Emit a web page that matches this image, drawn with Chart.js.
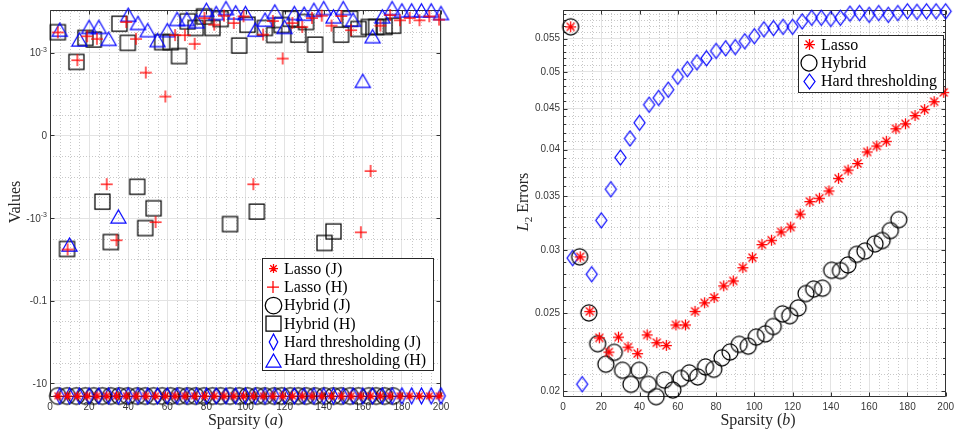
<!DOCTYPE html>
<html><head><meta charset="utf-8">
<script src="https://cdn.jsdelivr.net/npm/chart.js@4.4.0/dist/chart.umd.min.js"></script>
<style>
html,body{margin:0;padding:0;background:#fff;overflow:hidden;}
#wrap{position:relative;width:958px;height:435px;background:#fff;}
#c1{position:absolute;left:0;top:0;width:500px;height:435px;}
#c2{position:absolute;left:500px;top:0;width:458px;height:435px;}
</style></head><body>
<div id="wrap"><canvas id="c1" width="500" height="435"></canvas><canvas id="c2" width="458" height="435"></canvas></div>
<script>
// ---------- data ----------
const lassoX = [4,9,14,19,24,29,34,39,44,49,54,59,64,69,74,79,84,89,94,99,104,109,114,119,124,129,134,139,144,149,154,159,164,169,174,179,184,189,194,199];
const hybridX = [4,8.7,13.5,18.1,22.4,26.8,31.1,35.5,39.8,44.6,48.7,53,57.4,61.7,66,70.4,74.5,78.8,83.1,87.3,92.1,96.8,101,105.8,109.9,114.7,118.5,122.9,127,131,135.6,140.4,145,148.9,153.5,157.8,163.1,166.8,171.1,175.5];
const hardX = [5,10,15,20,25,30,35,40,45,50,55,60,65,70,75,80,85,90,95,100,105,110,115,120,125,130,135,140,145,150,155,160,165,170,175,180,185,190,195,200];

// panel (a): values
const lassoJa = [-20,-20,-20,-20,-20,-20,-20,-20,-20,-20,-20,-20,-20,-20,-20,-20,-20,-20,-20,-20,-20,-20,-20,-20,-20,-20,-20,-20,-20,-20,-20,-20,-20,-20,-20,-20,-20,-20,-20,-20];
const lassoHa = [3.1e-3,-5.73e-3,0.91e-3,2.51e-3,2.17e-3,-0.59e-3,-3.43e-3,5.55e-3,2.17e-3,0.76e-3,-1.25e-3,0.47e-3,2.66e-3,2.66e-3,1.64e-3,6.92e-3,4.78e-3,7.86e-3,5.25e-3,7.6e-3,-0.59e-3,2.75e-3,5.86e-3,0.93e-3,5.25e-3,4.21e-3,6.92e-3,7.86e-3,4.52e-3,7.73e-3,3.51e-3,-2.2e-3,-0.43e-3,4.52e-3,8.17e-3,6.1e-3,6.92e-3,6.1e-3,7.6e-3,6.3e-3];
const hybridJa = [-20,-20,-20,-20,-20,-20,-20,-20,-20,-20,-20,-20,-20,-20,-20,-20,-20,-20,-20,-20,-20,-20,-20,-20,-20,-20,-20,-20,-20,-20,-20,-20,-20,-20,-20,-20,-20,-20,-20,-20];
const hybridHa = [3.14e-3,-5.55e-3,0.89e-3,2.29e-3,2.09e-3,-0.8e-3,-3.77e-3,5.05e-3,1.74e-3,-0.62e-3,-1.74e-3,-0.88e-3,1.81e-3,1.81e-3,0.96e-3,5.77e-3,3.98e-3,7.6e-3,3.98e-3,6.55e-3,-1.39e-3,1.5e-3,4.78e-3,-0.92e-3,3.98e-3,2.7e-3,4.7e-3,6.65e-3,2.75e-3,5.55e-3,1.58e-3,-3.98e-3,-2.09e-3,2.75e-3,6.65e-3,3.77e-3,4.21e-3,4.21e-3,4.21e-3,4.52e-3];
const hardJa = [-20,-20,-20,-20,-20,-20,-20,-20,-20,-20,-20,-20,-20,-20,-20,-20,-20,-20,-20,-20,-20,-20,-20,-20,-20,-20,-20,-20,-20,-20,-20,-20,-20,-20,-20,-20,-20,-20,-20,-20];
const hardHa = [3.62e-3,-4.35e-3,2.09e-3,4.21e-3,4.21e-3,2.17e-3,-0.98e-3,8.3e-3,5.25e-3,3.51e-3,2.02e-3,3.51e-3,6.55e-3,6.55e-3,5.77e-3,10.9e-3,9.12e-3,12.0e-3,9.48e-3,9.12e-3,3.62e-3,6.3e-3,10.0e-3,4.21e-3,9.12e-3,8.77e-3,10.9e-3,12.0e-3,7.6e-3,12.0e-3,6.3e-3,0.66e-3,2.51e-3,7.6e-3,12.0e-3,10.6e-3,10.6e-3,10.6e-3,10.6e-3,9.12e-3];
const yTicksA = [-10,-0.1,-0.001,0,0.001];
// tick labels as [base, superscript]
const yTickLabelsA = [['-10',''],['-0.1',''],['-10','-3'],['0',''],['10','-3']];

// panel (b): L2 errors
const lassoB = [0.0569,0.0294,0.02514,0.0233,0.02237,0.02335,0.02269,0.02227,0.0235,0.02298,0.0228,0.02418,0.02418,0.02514,0.02577,0.02616,0.02705,0.02744,0.0285,0.02933,0.03046,0.03084,0.03158,0.03203,0.03324,0.03446,0.03479,0.03553,0.03683,0.03772,0.03844,0.03974,0.04042,0.04097,0.04247,0.04308,0.04411,0.04488,0.0459,0.04715];
const hybridB = [0.0569,0.0294,0.02503,0.02291,0.0216,0.02235,0.02123,0.02039,0.02123,0.02039,0.01968,0.02064,0.02006,0.02074,0.02107,0.02083,0.02143,0.02129,0.022,0.02237,0.02287,0.02275,0.02335,0.02357,0.02407,0.02496,0.02483,0.02539,0.02646,0.0268,0.02687,0.02829,0.02826,0.02872,0.02961,0.02989,0.03052,0.03081,0.0317,0.03271];
const hardB = [0.0293,0.0204,0.02797,0.03265,0.0357,0.0391,0.0413,0.0432,0.0455,0.0464,0.0475,0.0493,0.0504,0.0514,0.052,0.0531,0.0535,0.0537,0.0546,0.0554,0.0565,0.0567,0.0569,0.0569,0.0578,0.0584,0.0584,0.0582,0.0584,0.0591,0.0592,0.0589,0.0592,0.0589,0.0592,0.0595,0.0594,0.0595,0.0595,0.0595];
const yTicksB = [0.02,0.025,0.03,0.035,0.04,0.045,0.05,0.055];
const yTickLabelsB = ['0.02','0.025','0.03','0.035','0.04','0.045','0.05','0.055'];

const xTicks = [0,20,40,60,80,100,120,140,160,180,200];
const xTickLabels = ['0','20','40','60','80','100','120','140','160','180','200'];

// ---------- axis transform for panel (a) ----------
function toLevel(v){
  if (v >= 1e-3) return 4 + Math.log10(v/1e-3)/2;
  if (v >= -1e-3) return 3 + v/1e-3;
  return 2 - Math.log10(-v/1e-3)/2;
}
function fromLevel(L){
  if (L >= 4) return 1e-3*Math.pow(10, 2*(L-4));
  if (L >= 2) return (L-3)*1e-3;
  return -1e-3*Math.pow(10, 2*(2-L));
}
class SymScale extends Chart.LinearScale {
  getPixelForValue(v){
    const a = toLevel(this.min), b = toLevel(this.max);
    return this.getPixelForDecimal((toLevel(v)-a)/(b-a));
  }
  getValueForPixel(p){
    const a = toLevel(this.min), b = toLevel(this.max);
    return fromLevel(a + this.getDecimalForPixel(p)*(b-a));
  }
}
SymScale.id = 'symlevel';
SymScale.defaults = Chart.LinearScale.defaults;
Chart.register(SymScale);

// ---------- markers ----------
function mk(type, color, w, h, lw){
  lw = lw || 1.25;
  const pad = 2;
  const c = document.createElement('canvas');
  c.width = Math.ceil(w + 2*pad); c.height = Math.ceil(h + 2*pad);
  const g = c.getContext('2d');
  g.strokeStyle = color; g.lineWidth = lw;
  const cx = c.width/2, cy = c.height/2;
  g.beginPath();
  if (type === 'circle') { g.arc(cx, cy, w/2, 0, Math.PI*2); }
  else if (type === 'square') { g.rect(cx-w/2, cy-h/2, w, h); }
  else if (type === 'diamond') { g.moveTo(cx, cy-h/2); g.lineTo(cx+w/2, cy); g.lineTo(cx, cy+h/2); g.lineTo(cx-w/2, cy); g.closePath(); }
  else if (type === 'triangle') { g.moveTo(cx, cy-h/2); g.lineTo(cx+w/2, cy+h/2); g.lineTo(cx-w/2, cy+h/2); g.closePath(); }
  else if (type === 'plus') { g.moveTo(cx-w/2, cy); g.lineTo(cx+w/2, cy); g.moveTo(cx, cy-h/2); g.lineTo(cx, cy+h/2); }
  else if (type === 'star') {
    g.moveTo(cx-w/2, cy); g.lineTo(cx+w/2, cy); g.moveTo(cx, cy-h/2); g.lineTo(cx, cy+h/2);
    const d = w/2*0.72;
    g.moveTo(cx-d, cy-d); g.lineTo(cx+d, cy+d); g.moveTo(cx-d, cy+d); g.lineTo(cx+d, cy-d);
  }
  g.stroke();
  return c;
}
const RED = '#ff0000', BLUE = '#0000ff', BLACK = '#000000';
const mA = {
  star: mk('star', RED, 9, 9), plus: mk('plus', RED, 12, 12),
  circle: mk('circle', BLACK, 16.5, 16.5), square: mk('square', BLACK, 15, 15),
  diamond: mk('diamond', BLUE, 8.5, 16), triangle: mk('triangle', BLUE, 15, 13)
};
const mB = {
  star: mk('star', RED, 11, 11), circle: mk('circle', BLACK, 16, 16), diamond: mk('diamond', BLUE, 11, 15)
};

// ---------- plugins ----------
function makeFrame(cfg){
  return {
    id: 'frame',
    beforeDatasetsDraw(chart){
      const ctx = chart.ctx, a = chart.chartArea, xs = chart.scales.x, ys = chart.scales.y;
      const L = Math.round(a.left)+0.5, R = Math.round(a.right)-0.5, T = Math.round(a.top)+0.5, B = Math.round(a.bottom)-0.5;
      ctx.save();
      ctx.strokeStyle = '#c8c8c8'; ctx.lineWidth = 1; ctx.setLineDash([1,2]);
      ctx.beginPath();
      cfg.xMinor.forEach(v => { const p = Math.round(xs.getPixelForValue(v))+0.5; ctx.moveTo(p, a.top); ctx.lineTo(p, a.bottom); });
      cfg.yMinor.forEach(v => { const p = Math.round(ys.getPixelForValue(v))+0.5; if (p > a.top && p < a.bottom) { ctx.moveTo(a.left, p); ctx.lineTo(a.right, p); } });
      ctx.stroke();
      ctx.setLineDash([]);
      ctx.strokeStyle = '#333333'; ctx.lineWidth = 1;
      ctx.beginPath();
      ctx.rect(L, T, R-L, B-T);
      cfg.xMajor.forEach(v => { const p = Math.round(xs.getPixelForValue(v))+0.5; ctx.moveTo(p, B); ctx.lineTo(p, B-cfg.len); ctx.moveTo(p, T); ctx.lineTo(p, T+cfg.len); });
      cfg.yMajor.forEach(v => { const p = Math.round(ys.getPixelForValue(v))+0.5; ctx.moveTo(L, p); ctx.lineTo(L+cfg.len, p); ctx.moveTo(R, p); ctx.lineTo(R-cfg.len, p); });
      (cfg.yMinorTicks || []).forEach(v => { const p = Math.round(ys.getPixelForValue(v))+0.5; if (p > a.top && p < a.bottom) { ctx.moveTo(L, p); ctx.lineTo(L+cfg.minLen, p); ctx.moveTo(R, p); ctx.lineTo(R-cfg.minLen, p); } });
      ctx.stroke();
      ctx.restore();
    }
  };
}
function makeYLabels(ticks, labels){
  return {
    id: 'ylabels',
    afterDraw(chart){
      const ctx = chart.ctx, ys = chart.scales.y, a = chart.chartArea;
      ctx.save();
      ctx.fillStyle = TICKCOL; ctx.textBaseline = 'middle'; ctx.textAlign = 'left';
      ticks.forEach((v, i) => {
        const base = labels[i][0], sup = labels[i][1];
        const y = ys.getPixelForValue(v);
        ctx.font = '10px "Liberation Sans", Arial, sans-serif';
        const wb = ctx.measureText(base).width;
        ctx.font = '7px "Liberation Sans", Arial, sans-serif';
        const ws = sup ? ctx.measureText(sup).width : 0;
        const right = a.left - 3;
        const x0 = right - wb - ws;
        ctx.font = '10px "Liberation Sans", Arial, sans-serif';
        ctx.fillText(base, x0, y + 1);
        if (sup) { ctx.font = '7px "Liberation Sans", Arial, sans-serif'; ctx.fillText(sup, x0 + wb, y - 3); }
      });
      ctx.restore();
    }
  };
}
function makeLegend(cfg){
  return {
    id: 'boxlegend',
    afterDatasetsDraw(chart){
      const ctx = chart.ctx;
      ctx.save();
      ctx.fillStyle = '#ffffff'; ctx.strokeStyle = '#262626'; ctx.lineWidth = 1;
      ctx.fillRect(cfg.x, cfg.y, cfg.w, cfg.h);
      ctx.strokeRect(cfg.x+0.5, cfg.y+0.5, cfg.w-1, cfg.h-1);
      ctx.font = cfg.font; ctx.fillStyle = '#000'; ctx.textBaseline = 'middle'; ctx.textAlign = 'left';
      cfg.items.forEach((it, i) => {
        const y = cfg.rowY[i];
        ctx.drawImage(it.img, Math.round(cfg.mx - it.img.width/2), Math.round(y - it.img.height/2));
        ctx.fillText(it.label, cfg.tx, y+1);
      });
      ctx.restore();
    }
  };
}
function drawRich(ctx, parts, x, y, rot){
  ctx.save(); ctx.translate(x, y); if (rot) ctx.rotate(rot);
  ctx.textBaseline = 'alphabetic'; ctx.textAlign = 'left'; ctx.fillStyle = '#262626';
  let w = 0;
  parts.forEach(p => { ctx.font = p.font; p.w = ctx.measureText(p.t).width; w += p.w; });
  let cx = -w/2;
  parts.forEach(p => { ctx.font = p.font; ctx.fillText(p.t, cx, p.dy || 0); cx += p.w; });
  ctx.restore();
}
const SERIF = '16px "Liberation Serif"', SERIF_I = 'italic 16px "Liberation Serif"';
function makeTitles(list){
  return { id: 'titles', afterDraw(chart){ list.forEach(t => drawRich(chart.ctx, t.parts, t.x, t.y, t.rot)); } };
}

// minor grid positions
const xMinor = []; for (let v = 5; v < 200; v += 5) if (v % 20) xMinor.push(v);
const yMinorA = []; for (let k = -1; k <= 18; k++) if (k % 4) yMinorA.push(fromLevel(k/4));
const yMinorB = []; for (let k = 20; k <= 59; k++) if (k % 5) yMinorB.push(k/1000);

function pts(xs, ys){ return xs.map((x, i) => ({x: x, y: ys[i]})); }
const tickFont = {family: '"Liberation Sans", Arial, sans-serif', size: 10};
const TICKCOL = '#383838';
function xAxis(){
  return {
    type: 'linear', min: 0, max: 200, position: 'bottom',
    afterBuildTicks: s => { s.ticks = xTicks.map(v => ({value: v})); },
    afterFit: s => { s.height = 38; },
    ticks: { callback: (v, i) => xTickLabels[i], font: tickFont, color: TICKCOL, padding: 4, maxRotation: 0, autoSkip: false },
    grid: { color: '#e3e3e3', lineWidth: 1, drawTicks: false },
    border: { display: false }
  };
}
function ds(label, xs, ys, img, order){
  return { label: label, data: pts(xs, ys), pointStyle: img, pointRadius: 9, pointHoverRadius: 9, clip: false, order: order };
}

// ---------- chart (a) ----------
new Chart(document.getElementById('c1'), {
  type: 'scatter',
  data: { datasets: [
    ds('Lasso (J)', lassoX, lassoJa, mA.star, 0),
    ds('Lasso (H)', lassoX, lassoHa, mA.plus, 1),
    ds('Hybrid (J)', hybridX, hybridJa, mA.circle, 5),
    ds('Hybrid (H)', hybridX, hybridHa, mA.square, 4),
    ds('Hard thresholding (J)', hardX, hardJa, mA.diamond, 3),
    ds('Hard thresholding (H)', hardX, hardHa, mA.triangle, 2)
  ]},
  options: {
    responsive: false, animation: false, events: [], devicePixelRatio: 1,
    layout: { padding: { left: 0, right: 59, top: 7, bottom: 0 } },
    plugins: { legend: { display: false }, tooltip: { enabled: false } },
    scales: {
      x: xAxis(),
      y: {
        type: 'symlevel', min: fromLevel(-0.164), max: fromLevel(4.516), bounds: 'data',
        afterBuildTicks: s => { s.ticks = yTicksA.map(v => ({value: v})); },
        afterFit: s => { s.width = 50; },
        ticks: { display: false },
        grid: { color: '#e3e3e3', lineWidth: 1, drawTicks: false },
        border: { display: false }
      }
    }
  },
  plugins: [
    makeFrame({ xMinor: xMinor, yMinor: yMinorA, xMajor: xTicks, yMajor: yTicksA, len: 4 }),
    makeYLabels(yTicksA, yTickLabelsA),
    makeLegend({ x: 262, y: 258, w: 172, h: 113, mx: 273, tx: 284, rowY: [268.3, 286.7, 305, 323.3, 341.7, 360], font: SERIF,
      items: [ {img: mA.star, label: 'Lasso (J)'}, {img: mA.plus, label: 'Lasso (H)'}, {img: mA.circle, label: 'Hybrid (J)'},
               {img: mA.square, label: 'Hybrid (H)'}, {img: mA.diamond, label: 'Hard thresholding (J)'}, {img: mA.triangle, label: 'Hard thresholding (H)'} ] }),
    makeTitles([
      { parts: [{t: 'Values', font: SERIF}], x: 20, y: 202, rot: -Math.PI/2 },
      { parts: [{t: 'Sparsity (', font: SERIF}, {t: 'a', font: SERIF_I}, {t: ')', font: SERIF}], x: 245.5, y: 425 }
    ])
  ]
});

// ---------- chart (b) ----------
new Chart(document.getElementById('c2'), {
  type: 'scatter',
  data: { datasets: [
    ds('Lasso', lassoX, lassoB, mB.star, 0),
    ds('Hybrid', hybridX, hybridB, mB.circle, 1),
    ds('Hard thresholding', hardX, hardB, mB.diamond, 2)
  ]},
  options: {
    responsive: false, animation: false, events: [], devicePixelRatio: 1,
    layout: { padding: { left: 0, right: 5, top: 7, bottom: 0 } },
    plugins: { legend: { display: false }, tooltip: { enabled: false } },
    scales: {
      x: xAxis(),
      y: {
        type: 'logarithmic', min: 0.019661, max: 0.05972,
        afterBuildTicks: s => { s.ticks = yTicksB.map(v => ({value: v})); },
        afterFit: s => { s.width = 63; },
        ticks: { callback: (v, i) => yTickLabelsB[i], font: tickFont, color: TICKCOL, padding: 3, autoSkip: false },
        grid: { color: '#e3e3e3', lineWidth: 1, drawTicks: false },
        border: { display: false }
      }
    }
  },
  plugins: [
    makeFrame({ xMinor: xMinor, yMinor: yMinorB, xMajor: xTicks, yMajor: yTicksB, yMinorTicks: yMinorB, len: 4, minLen: 2.5 }),
    makeLegend({ x: 298, y: 35, w: 146, h: 58, mx: 309, tx: 321, rowY: [44.3, 62.7, 81], font: SERIF,
      items: [ {img: mB.star, label: 'Lasso'}, {img: mB.circle, label: 'Hybrid'}, {img: mB.diamond, label: 'Hard thresholding'} ] }),
    makeTitles([
      { parts: [{t: 'L', font: SERIF_I}, {t: '2', font: '11px "Liberation Serif"', dy: 4}, {t: ' Errors', font: SERIF}], x: 28, y: 202, rot: -Math.PI/2 },
      { parts: [{t: 'Sparsity (', font: SERIF}, {t: 'b', font: SERIF_I}, {t: ')', font: SERIF}], x: 258, y: 425 }
    ])
  ]
});
</script>
</body></html>
